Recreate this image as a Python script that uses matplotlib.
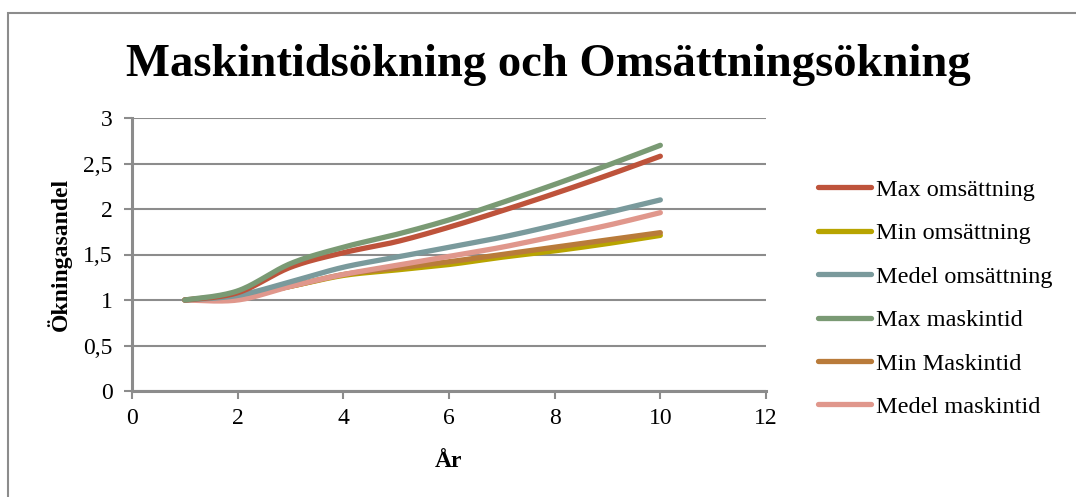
import numpy as np
import matplotlib
matplotlib.use("Agg")
import matplotlib.pyplot as plt
from matplotlib.patches import Rectangle

years = [1, 2, 3, 4, 5, 6, 7, 8, 9, 10]
max_oms = [1.00, 1.08, 1.36, 1.52, 1.64, 1.80, 1.98, 2.17, 2.37, 2.58]
min_oms = [1.00, 1.04, 1.15, 1.27, 1.33, 1.39, 1.47, 1.54, 1.62, 1.71]
medel_oms = [1.00, 1.05, 1.20, 1.36, 1.47, 1.58, 1.69, 1.82, 1.96, 2.10]
max_mask = [1.00, 1.10, 1.40, 1.58, 1.72, 1.88, 2.07, 2.27, 2.48, 2.70]
min_mask = [1.00, 1.04, 1.15, 1.28, 1.35, 1.42, 1.50, 1.58, 1.66, 1.74]
medel_mask = [1.00, 1.00, 1.15, 1.28, 1.38, 1.48, 1.58, 1.70, 1.82, 1.96]

labels = ["Max omsättning", "Min omsättning", "Medel omsättning",
          "Max maskintid", "Min Maskintid", "Medel maskintid"]
series = [max_oms, min_oms, medel_oms, max_mask, min_mask, medel_mask]
colors = ["#BE533B", "#B8A400", "#7A9A9C", "#7A9A74", "#B97B3A", "#E0978C"]
draw_order = [1, 4, 5, 2, 0, 3]

title = "Maskintidsökning och Omsättningsökning"
xlabel = "År"
ylabel = "Ökningasandel"


def smooth(x, y, n=30):
    x = np.asarray(x, float)
    y = np.asarray(y, float)
    px = np.concatenate([[x[0]], x, [x[-1]]])
    py = np.concatenate([[y[0]], y, [y[-1]]])
    xs, ys = [], []
    t = np.linspace(0, 1, n, endpoint=False)
    for i in range(1, len(px) - 2):
        p0x, p1x, p2x, p3x = px[i - 1:i + 3]
        p0y, p1y, p2y, p3y = py[i - 1:i + 3]
        c1x = p1x + (p2x - p0x) / 6
        c1y = p1y + (p2y - p0y) / 6
        c2x = p2x - (p3x - p1x) / 6
        c2y = p2y - (p3y - p1y) / 6
        b0 = (1 - t) ** 3
        b1 = 3 * (1 - t) ** 2 * t
        b2 = 3 * (1 - t) * t ** 2
        b3 = t ** 3
        xs.append(b0 * p1x + b1 * c1x + b2 * c2x + b3 * p2x)
        ys.append(b0 * p1y + b1 * c1y + b2 * c2y + b3 * p2y)
    xs.append([x[-1]])
    ys.append([y[-1]])
    return np.concatenate(xs), np.concatenate(ys)


plt.rcParams['font.family'] = ['Liberation Serif', 'DejaVu Serif']

W, H = 1076, 497
fig = plt.figure(figsize=(W / 100, H / 100), dpi=100)
fig.patches.append(Rectangle((8 / W, -0.01), 1.05, 1 - 13 / H + 0.01,
                             transform=fig.transFigure, fill=False,
                             edgecolor="#8C8C8C", linewidth=1.5))

ax = fig.add_axes([132 / W, 1 - 391 / H, (766 - 132) / W, (391 - 118) / H])
grid_c = "#8C8C8C"
handles = {}
for i in draw_order:
    sx, sy = smooth(years, series[i])
    ln, = ax.plot(sx, sy, color=colors[i], linewidth=3.8,
                  solid_capstyle="round", label=labels[i])
    handles[i] = ln

ax.set_xlim(0, 12)
ax.set_ylim(0, 3)
ax.set_xticks(range(0, 13, 2))
ax.set_yticks([0, 0.5, 1, 1.5, 2, 2.5, 3])
ax.set_yticklabels(["0", "0,5", "1", "1,5", "2", "2,5", "3"])
ax.grid(axis="y", color=grid_c, linewidth=1.5)
ax.set_axisbelow(True)
for s in ["top", "right"]:
    ax.spines[s].set_visible(False)
for s in ["left", "bottom"]:
    ax.spines[s].set_color(grid_c)
    ax.spines[s].set_linewidth(2.2)
ax.tick_params(axis="both", colors=grid_c, width=1.5, length=6,
               labelsize=17, labelcolor="black")
ax.tick_params(axis="x", pad=6)
ax.tick_params(axis="y", pad=8)

ax.set_xlabel(xlabel, fontsize=17, fontweight="bold", labelpad=16)
ax.set_ylabel(ylabel, fontsize=17, fontweight="bold", labelpad=8)

fig.text(548 / W, 1 - 65 / H, title, fontsize=33.6, fontweight="bold",
         ha="center", va="center")

leg = fig.legend([handles[i] for i in range(6)], labels,
                 loc="upper left", bbox_to_anchor=(796 / W, 1 - 157 / H),
                 frameon=False, fontsize=17.5, handlelength=2.2,
                 handletextpad=0.2, labelspacing=0.88)

fig.savefig("out.png", dpi=100)
